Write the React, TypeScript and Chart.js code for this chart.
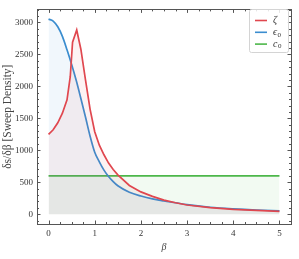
import React, { useEffect, useRef } from 'react';
import { Chart, registerables } from 'chart.js';

Chart.register(...registerables);

// ζ series
const zetaBeta = [0, 0.1, 0.2, 0.3, 0.4, 0.47, 0.52, 0.61, 0.7, 0.8, 0.9, 1.0, 1.1, 1.2, 1.3, 1.4, 1.5, 1.75, 2.0, 2.25, 2.5, 2.75, 3.0, 3.5, 4.0, 4.5, 5.0];
const zetaValues = [1250, 1320, 1430, 1580, 1790, 2150, 2690, 2880, 2580, 2100, 1640, 1290, 1080, 930, 800, 700, 615, 450, 350, 280, 222, 180, 145, 105, 78, 60, 45];

// ϵ0 series
const epsBeta = [0, 0.1, 0.2, 0.3, 0.4, 0.5, 0.6, 0.7, 0.8, 0.9, 1.0, 1.1, 1.2, 1.3, 1.4, 1.5, 1.75, 2.0, 2.25, 2.5, 2.75, 3.0, 3.5, 4.0, 4.5, 5.0];
const epsValues = [3050, 3020, 2930, 2780, 2570, 2340, 2090, 1810, 1520, 1220, 970, 820, 690, 590, 510, 445, 345, 285, 240, 208, 180, 150, 110, 85, 67, 55];

// c0 series
const cBeta = [0, 5];
const cValues = [600, 600];

const xTicks = [0, 1, 2, 3, 4, 5];
const yTicks = [0, 500, 1000, 1500, 2000, 2500, 3000];

const seriesSymbols = ['ζ', 'ϵ', 'c'];
const seriesSubs = ['', '0', '0'];
const seriesColors = ['#e0474f', '#3b8dcf', '#4cb74a'];
const seriesFills = ['rgba(224,71,79,0.07)', 'rgba(59,141,207,0.07)', 'rgba(76,183,74,0.07)'];

const SERIF = '"Liberation Serif", "DejaVu Serif", serif';

const framePlugin = {
  id: 'framePlugin',
  afterDraw(chart: any) {
    const { ctx, chartArea } = chart;
    const { left, right, top, bottom } = chartArea;
    const xs = chart.scales.x;
    const ys = chart.scales.y;
    ctx.save();
    ctx.strokeStyle = '#555';
    ctx.lineWidth = 1;
    ctx.strokeRect(Math.round(left) + 0.5, Math.round(top) + 0.5, Math.round(right - left), Math.round(bottom - top));
    const line = (x1: number, y1: number, x2: number, y2: number) => {
      ctx.beginPath();
      ctx.moveTo(x1, y1);
      ctx.lineTo(x2, y2);
      ctx.stroke();
    };
    // x ticks every 0.25, major on integers
    for (let k = -1; k <= 21; k++) {
      const v = k * 0.25;
      const px = Math.round(xs.getPixelForValue(v)) + 0.5;
      if (px < left || px > right) continue;
      const len = k % 4 === 0 ? 3.5 : 2;
      line(px, bottom, px, bottom - len);
      line(px, top, px, top + len);
    }
    // y ticks every 100, major every 500
    for (let k = -1; k <= 32; k++) {
      const v = k * 100;
      const py = Math.round(ys.getPixelForValue(v)) + 0.5;
      if (py < top || py > bottom) continue;
      const len = k % 5 === 0 ? 3.5 : 2;
      line(left, py, left + len, py);
      line(right, py, right - len, py);
    }
    // legend
    const bx = 249.5, by = 9.5, bw = 39, bh = 43;
    ctx.fillStyle = 'rgba(255,255,255,0.85)';
    ctx.strokeStyle = '#d4d4d4';
    ctx.lineWidth = 1;
    ctx.beginPath();
    (ctx as any).roundRect(bx, by, bw, bh, 2);
    ctx.fill();
    ctx.stroke();
    chart.data.datasets.forEach((ds: any, i: number) => {
      const ly = 20.5 + i * 11.8;
      ctx.strokeStyle = ds.borderColor;
      ctx.lineWidth = 1.6;
      line(255, ly, 267, ly);
      ctx.fillStyle = '#333';
      ctx.textBaseline = 'middle';
      ctx.textAlign = 'left';
      ctx.font = `italic 10px ${SERIF}`;
      const sym = seriesSymbols[i];
      ctx.fillText(sym, 273, ly);
      const w = ctx.measureText(sym).width;
      if (seriesSubs[i]) {
        ctx.font = `7px ${SERIF}`;
        ctx.fillText(seriesSubs[i], 273 + w + 0.5, ly + 2.5);
      }
    });
    ctx.restore();
  },
};

export default function App() {
  const ref = useRef<HTMLCanvasElement | null>(null);
  useEffect(() => {
    if (!ref.current) return;
    const mk = (xsArr: number[], ysArr: number[]) => xsArr.map((x, i) => ({ x, y: ysArr[i] }));
    const chart = new Chart(ref.current, {
      type: 'line',
      data: {
        datasets: [
          {
            label: 'ζ',
            data: mk(zetaBeta, zetaValues),
            borderColor: seriesColors[0],
            backgroundColor: seriesFills[0],
            fill: 'origin',
            borderWidth: 1.7,
            pointRadius: 0,
            tension: 0,
          },
          {
            label: 'ϵ0',
            data: mk(epsBeta, epsValues),
            borderColor: seriesColors[1],
            backgroundColor: seriesFills[1],
            fill: 'origin',
            borderWidth: 1.7,
            pointRadius: 0,
            cubicInterpolationMode: 'monotone',
          },
          {
            label: 'c0',
            data: mk(cBeta, cValues),
            borderColor: seriesColors[2],
            backgroundColor: seriesFills[2],
            fill: 'origin',
            borderWidth: 1.7,
            pointRadius: 0,
          },
        ],
      },
      options: {
        animation: false,
        responsive: false,
        layout: { padding: { top: 5, right: 8, bottom: 0, left: 0 } },
        plugins: { legend: { display: false }, tooltip: { enabled: false } },
        scales: {
          x: {
            type: 'linear',
            min: -0.25,
            max: 5.25,
            grid: { display: false, drawTicks: false },
            border: { display: false },
            afterBuildTicks: (s: any) => {
              s.ticks = xTicks.map((v) => ({ value: v }));
            },
            afterFit: (s: any) => {
              s.height = 35;
            },
            ticks: {
              padding: 4,
              maxRotation: 0,
              autoSkip: false,
              color: '#333',
              font: { family: SERIF, size: 9 },
              callback: (v: any) => String(v),
            },
            title: {
              display: true,
              text: 'β',
              color: '#444',
              font: { family: SERIF, size: 10, style: 'italic' },
              padding: { top: 0, bottom: 6 },
            },
          },
          y: {
            type: 'linear',
            min: -152,
            max: 3202,
            grid: { display: false, drawTicks: false },
            border: { display: false },
            afterBuildTicks: (s: any) => {
              s.ticks = yTicks.map((v) => ({ value: v }));
            },
            afterFit: (s: any) => {
              s.width = 37;
            },
            ticks: {
              padding: 4,
              autoSkip: false,
              color: '#333',
              font: { family: SERIF, size: 9 },
              callback: (v: any) => String(v),
            },
            title: {
              display: true,
              text: 'δs/δβ [Sweep Density]',
              color: '#444',
              font: { family: SERIF, size: 11.5 },
              padding: { top: 1, bottom: 0 },
            },
          },
        },
      },
      plugins: [framePlugin],
    } as any);
    return () => chart.destroy();
  }, []);
  return (
    <div style={{ position: 'absolute', left: 0, top: 0, width: 299, height: 259 }}>
      <canvas ref={ref} width={299} height={259} />
    </div>
  );
}
